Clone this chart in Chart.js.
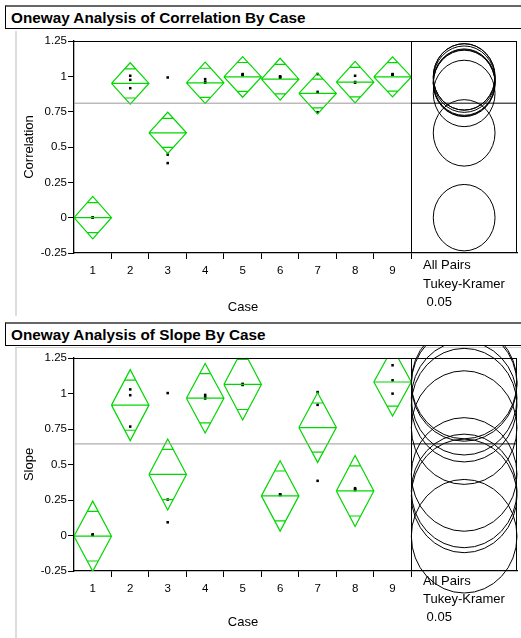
<!DOCTYPE html>
<html>
<head>
<meta charset="utf-8">
<title>Oneway Analysis</title>
<script src="https://cdn.jsdelivr.net/npm/chart.js@4.4.1/dist/chart.umd.min.js"></script>
<style>
  body { margin: 0; background: #fff; font-family: "Liberation Sans", Arial, sans-serif; }
  .pagina { position: relative; width: 521px; height: 638px; overflow: hidden; }
  .titulo { position: absolute; left: 5px; width: 530px; height: 21px; border-top: 2px solid #666;
            border-left: 1px solid #000; border-bottom: 1px solid #000; font-weight: bold;
            font-size: 15.3px; line-height: 21px; padding-left: 5px; white-space: nowrap; }
  .barra { position: absolute; left: 15px; width: 2px; background: #ddd; }
  .rotulo { position: absolute; left: 423px; font-size: 13px; line-height: 18.5px; white-space: pre; }
  .eixo { position: absolute; left: 203px; width: 80px; text-align: center; font-size: 13px; line-height: 16px; }
  canvas { position: absolute; left: 0; }
</style>
</head>
<body>
<div class="pagina">
  <div class="barra" style="top:31px;height:285px"></div>
  <div class="barra" style="top:347px;height:291px"></div>
  <div style="position:absolute;left:15px;top:347px;width:506px;height:1px;background:#ccc"></div>

  <div class="titulo" style="top:5px">Oneway Analysis of Correlation By Case</div>
  <canvas id="grafico-correlacao" width="521" height="290" style="top:30px"></canvas>
  <div class="rotulo" id="rotulo-correlacao" style="top:256px"></div>
  <div class="eixo" id="eixo-correlacao" style="top:299px"></div>

  <div class="titulo" style="top:322px">Oneway Analysis of Slope By Case</div>
  <canvas id="grafico-slope" width="521" height="293" style="top:345px"></canvas>
  <div class="rotulo" id="rotulo-slope" style="top:572px;line-height:18px"></div>
  <div class="eixo" id="eixo-slope" style="top:614px"></div>
</div>
<script>
// categorias e rotulos
const casos = ['1', '2', '3', '4', '5', '6', '7', '8', '9'];
const ticksY = [-0.25, 0, 0.25, 0.5, 0.75, 1, 1.25];
const rotulosDireita = ['All Pairs', 'Tukey-Kramer', ' 0.05'];
const tituloX = 'Case';

// Correlation
const mediasCorr = [0.0, 0.95, 0.60, 0.954, 0.996, 0.98, 0.879, 0.959, 0.996];
const icCorr = [0.15, 0.146, 0.146, 0.146, 0.144, 0.148, 0.144, 0.147, 0.142];
const pontosCorr = [
  [0.0, 0.0, 0.0], [1.004, 0.975, 0.916], [0.992, 0.446, 0.386],
  [0.98, 0.962, 0.955], [1.016, 1.012, 1.008], [1.0, 0.995, 0.99],
  [1.016, 0.89, 0.746], [1.004, 0.96, 0.955], [1.016, 1.012, 1.01]
];
const mediaGeralCorr = 0.81;
const raioCorr = 0.235;

// Slope
const mediasSlope = [-0.005, 0.918, 0.43, 0.967, 1.064, 0.279, 0.76, 0.314, 1.081];
const icSlope = [0.247, 0.25, 0.25, 0.245, 0.25, 0.248, 0.245, 0.25, 0.24];
const pontosSlope = [
  [0.008, 0.005, 0.003], [1.029, 0.988, 0.767], [1.003, 0.253, 0.093],
  [0.99, 0.975, 0.965], [1.068, 1.064, 1.06], [0.29, 0.287, 0.285],
  [1.01, 0.92, 0.385], [0.333, 0.326, 0.32], [1.199, 1.093, 0.999]
];
const mediaGeralSlope = 0.645;
const raioSlope = 0.40;

const verde = 'rgb(0, 215, 0)';
const xMaximo = 12.32; // inclui o compartimento dos circulos

// linhas dos diamantes (contorno, media e marcas de sobreposicao)
function linhasDiamantes(medias, ic) {
  const pts = [];
  medias.forEach((m, i) => {
    const c = i + 1, h = ic[i], o = h / Math.SQRT2, w = 0.5 * (1 - 1 / Math.SQRT2);
    pts.push({x: c - 0.5, y: m}, {x: c, y: m + h}, {x: c + 0.5, y: m}, {x: c, y: m - h}, {x: c - 0.5, y: m}, {x: c, y: null});
    pts.push({x: c - 0.5, y: m}, {x: c + 0.5, y: m}, {x: c, y: null});
    pts.push({x: c - w, y: m + o}, {x: c + w, y: m + o}, {x: c, y: null});
    pts.push({x: c - w, y: m - o}, {x: c + w, y: m - o}, {x: c, y: null});
  });
  return pts;
}

function listarPontos(pontos) {
  const pts = [];
  pontos.forEach((lista, i) => lista.forEach(v => pts.push({x: i + 1, y: v})));
  return pts;
}

const moldura = {
  id: 'moldura',
  afterDatasetsDraw(chart, args, opts) {
    const {ctx, chartArea: a, scales: {x, y}} = chart;
    ctx.save();
    ctx.strokeStyle = '#000';
    ctx.lineWidth = 1;
    ctx.beginPath();
    ctx.moveTo(a.left, a.top + 0.5); ctx.lineTo(a.right, a.top + 0.5);
    ctx.moveTo(a.right - 0.5, a.top); ctx.lineTo(a.right - 0.5, a.bottom);
    const xd = Math.round(x.getPixelForValue(9.5)) + 0.5;
    ctx.moveTo(xd, a.top); ctx.lineTo(xd, a.bottom);
    ctx.stroke();
    // circulos de comparacao
    const cx = x.getPixelForValue((9.5 + x.max) / 2);
    opts.medias.forEach(m => {
      const cy = y.getPixelForValue(m);
      const ry = Math.abs(y.getPixelForValue(m + opts.raio) - cy);
      ctx.beginPath();
      ctx.ellipse(cx, cy, ry * 0.93, ry, 0, 0, Math.PI * 2);
      ctx.stroke();
    });
    ctx.restore();
  }
};

function montarGrafico(id, cfg) {
  return new Chart(document.getElementById(id), {
    type: 'scatter',
    data: {
      datasets: [
        {
          data: [{x: 0.5, y: cfg.mediaGeral}, {x: 9.5, y: cfg.mediaGeral}],
          showLine: true, borderColor: '#999', borderWidth: 1, pointRadius: 0
        },
        {
          data: [{x: 9.5, y: cfg.mediaGeral}, {x: xMaximo, y: cfg.mediaGeral}],
          showLine: true, borderColor: '#000', borderWidth: 1, pointRadius: 0
        },
        {
          data: linhasDiamantes(cfg.medias, cfg.ic),
          showLine: true, spanGaps: false, borderColor: verde, borderWidth: 1.2,
          borderJoinStyle: 'miter', pointRadius: 0, tension: 0
        },
        {
          data: listarPontos(cfg.pontos),
          pointStyle: 'rect', pointRadius: 1.8, borderWidth: 0,
          backgroundColor: '#000'
        }
      ]
    },
    options: {
      responsive: false,
      animation: false,
      events: [],
      layout: { padding: { left: 22, right: 1, top: cfg.topo, bottom: cfg.baixo } },
      plugins: {
        legend: { display: false },
        tooltip: { enabled: false },
        moldura: { medias: cfg.medias, raio: cfg.raio }
      },
      scales: {
        x: {
          type: 'linear', min: 0.5, max: xMaximo,
          afterBuildTicks: s => {
            s.ticks = [];
            casos.forEach((c, i) => s.ticks.push({value: i + 1}, {value: i + 1.5}));
          },
          afterFit: s => { s.height = cfg.alturaX; },
          ticks: {
            autoSkip: false, maxRotation: 0, padding: 5, color: '#000',
            font: { size: 11.5, family: 'Liberation Sans' },
            callback: v => Number.isInteger(v) ? casos[v - 1] : ''
          },
          grid: {
            drawOnChartArea: false, tickLength: 6,
            color: c => (c.tick && c.tick.value % 1 !== 0) ? '#000' : 'rgba(0,0,0,0)'
          },
          border: { color: '#000', width: 1.3 }
        },
        y: {
          min: -0.25, max: 1.25,
          afterBuildTicks: s => { s.ticks = ticksY.map(v => ({value: v})); },
          afterFit: s => { s.width = 52; },
          ticks: {
            padding: 1, color: '#000',
            font: { size: 11.5, family: 'Liberation Sans' },
            callback: v => String(v)
          },
          grid: { drawOnChartArea: false, tickLength: 6, color: '#000' },
          border: { color: '#000', width: 1.3 },
          title: { display: true, text: cfg.tituloY, color: '#000', padding: 0,
                   font: { size: 13, family: 'Liberation Sans' } }
        }
      }
    },
    plugins: [moldura]
  });
}

montarGrafico('grafico-correlacao', {
  medias: mediasCorr, ic: icCorr, pontos: pontosCorr, mediaGeral: mediaGeralCorr,
  raio: raioCorr, tituloY: 'Correlation', topo: 11, baixo: 6, alturaX: 61
});
montarGrafico('grafico-slope', {
  medias: mediasSlope, ic: icSlope, pontos: pontosSlope, mediaGeral: mediaGeralSlope,
  raio: raioSlope, tituloY: 'Slope', topo: 13, baixo: 8, alturaX: 59
});

document.getElementById('rotulo-correlacao').textContent = rotulosDireita.join('\n');
document.getElementById('rotulo-slope').textContent = rotulosDireita.join('\n');
document.getElementById('eixo-correlacao').textContent = tituloX;
document.getElementById('eixo-slope').textContent = tituloX;
</script>
</body>
</html>
